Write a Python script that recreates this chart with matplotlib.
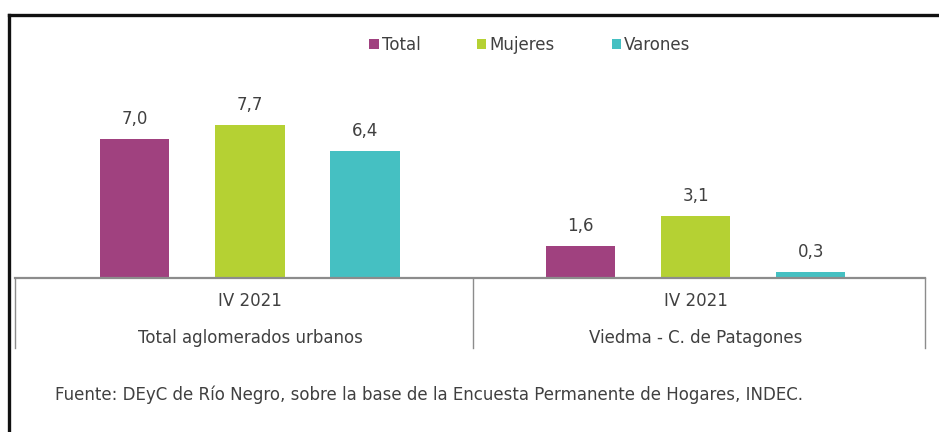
#import the python libraries
import numpy as np
import matplotlib
matplotlib.use('Agg')
import matplotlib.pyplot as plt
from matplotlib.patches import Patch
from matplotlib.lines import Line2D
import matplotlib.transforms as mtransforms

plt.rcParams['font.family'] = ['DejaVu Sans']

#periods and places
periods = ['IV 2021', 'IV 2021']
places = ['Total aglomerados urbanos', 'Viedma - C. de Patagones']
#series names and values (%)
series = ['Total', 'Mujeres', 'Varones']
total = [7.0, 1.6]
mujeres = [7.7, 3.1]
varones = [6.4, 0.3]
colors = ['#A0417F', '#B5D133', '#45C0C2']
source = 'Fuente: DEyC de Río Negro, sobre la base de la Encuesta Permanente de Hogares, INDEC.'

text_color = '#404040'
fs = 12
fig = plt.figure(figsize=(9.39, 4.32), dpi=100)
W, H = 939, 432
ax = fig.add_axes([15 / W, 1 - 278 / H, 910 / W, 198.5 / H])

x = np.arange(len(places))
offset = 0.258
width = 0.155
for i, vals in enumerate([total, mujeres, varones]):
    pos = x + (i - 1) * offset
    ax.bar(pos, vals, width=width, color=colors[i], label=series[i])
    for p, v in zip(pos, vals):
        ax.annotate(('%.1f' % v).replace('.', ','), (p, v), xytext=(0, 8),
                    textcoords='offset points', ha='center', va='bottom',
                    fontsize=fs, color=text_color)

ax.set_xlim(-0.527, 1.514)
ax.set_ylim(0, 10)
for s in ['top', 'right', 'left']:
    ax.spines[s].set_visible(False)
ax.spines['bottom'].set_color('#8c8c8c')
ax.spines['bottom'].set_linewidth(1.6)
ax.set_xticks([])
ax.set_yticks([])

#group separators and category labels under the axis
trans = mtransforms.blended_transform_factory(ax.transData, ax.transAxes)
for xs in [-0.527, 0.5, 1.514]:
    ax.add_line(Line2D([xs, xs], [0, -0.355], transform=trans, color='#8c8c8c',
                       lw=1.0, clip_on=False))
for xi, per, pl in zip(x, periods, places):
    ax.text(xi, -0.115, per, transform=trans, ha='center', va='center',
            fontsize=fs, color=text_color)
    ax.text(xi, -0.30, pl, transform=trans, ha='center', va='center',
            fontsize=fs, color=text_color)

#legend
handles = [Patch(facecolor=c, label=s) for c, s in zip(colors, series)]
fig.legend(handles=handles, loc='center', bbox_to_anchor=(530 / W, 1 - 45 / H),
           ncol=3, frameon=False, fontsize=fs, handlelength=0.55, handleheight=0.55,
           handletextpad=0.2, columnspacing=3.4, labelcolor=text_color)

#source note
fig.text(55 / W, 1 - 395 / H, source, ha='left', va='center', fontsize=fs,
         color=text_color)

#frame lines at top and left
fig.add_artist(Line2D([8.5 / W, 1], [1 - 15 / H, 1 - 15 / H], transform=fig.transFigure,
                      color='#111111', lw=2.4))
fig.add_artist(Line2D([9 / W, 9 / W], [0, 1 - 15 / H], transform=fig.transFigure,
                      color='#111111', lw=2.4))

fig.savefig('out.png', dpi=100, facecolor='white')
